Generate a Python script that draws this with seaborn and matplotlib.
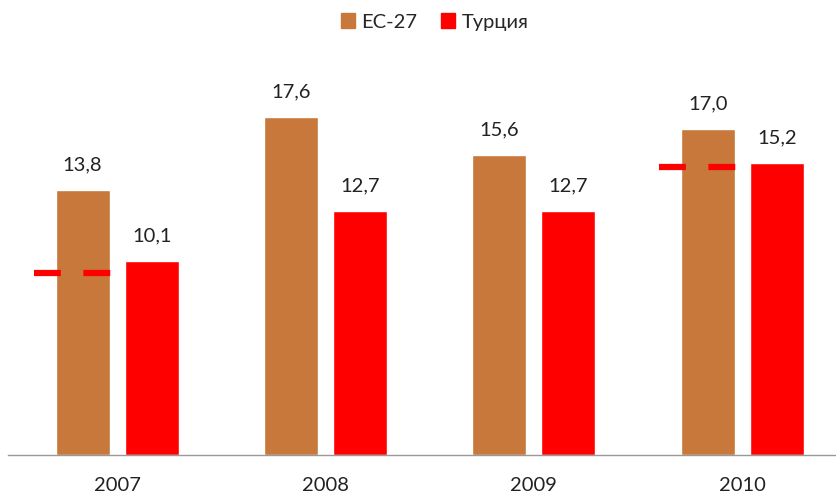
import matplotlib
matplotlib.use("Agg")
import matplotlib.pyplot as plt
import seaborn as sns
import pandas as pd

years = ["2007", "2008", "2009", "2010"]
eu27 = [13.8, 17.6, 15.6, 17.0]
turkey = [10.1, 12.7, 12.7, 15.2]
series_names = ["ЕС-27", "Турция"]
# reference levels drawn as dashed marks (None = no mark)
ref_levels = [9.5, None, None, 15.0]

colors = ["#C8783A", "#FF0000"]

df = pd.DataFrame({
    "year": years * 2,
    "value": eu27 + turkey,
    "series": [series_names[0]] * len(years) + [series_names[1]] * len(years),
})

sns.set_theme(style="white")
plt.rcParams["font.family"] = ["Lato", "DejaVu Sans"]

fig = plt.figure(figsize=(8.36, 4.98), dpi=100)
ax = fig.add_axes([8 / 836, 1 - 455 / 498, 1 - 8 / 836, 384 / 498])

sns.barplot(data=df, x="year", y="value", hue="series", palette=colors,
            width=0.664, gap=0.22, ax=ax, legend=False, saturation=1)

for cont in ax.containers:
    labels = [f"{v:.1f}".replace(".", ",") for v in cont.datavalues]
    ax.bar_label(cont, labels=labels, padding=12, fontsize=14.5, color="#222222")

for i, lvl in enumerate(ref_levels):
    if lvl is None:
        continue
    ax.plot([i - 0.40, i - 0.03], [lvl, lvl], color="#FF0000", lw=4.5,
            linestyle=(0, (4.3, 3.6)), solid_capstyle="butt", dash_capstyle="butt",
            zorder=5)

ax.set_xlim(-0.524, 3.45)
ax.set_ylim(0, 20)
ax.set_xlabel("")
ax.set_ylabel("")
ax.set_yticks([])
ax.tick_params(axis="x", labelsize=14.5, colors="#222222", pad=16, length=0)
for s in ["top", "right", "left"]:
    ax.spines[s].set_visible(False)
ax.spines["bottom"].set_color("#999999")
ax.spines["bottom"].set_linewidth(1)

handles = [plt.Rectangle((0, 0), 1, 1, color=c) for c in colors]
fig.legend(handles, series_names, loc="center", bbox_to_anchor=(0.52, 1 - 22 / 498),
           ncol=2, frameon=False, fontsize=14.5, handlelength=0.7, handleheight=0.7,
           handletextpad=0.3, columnspacing=1.2)

fig.savefig("out.png", dpi=100)
